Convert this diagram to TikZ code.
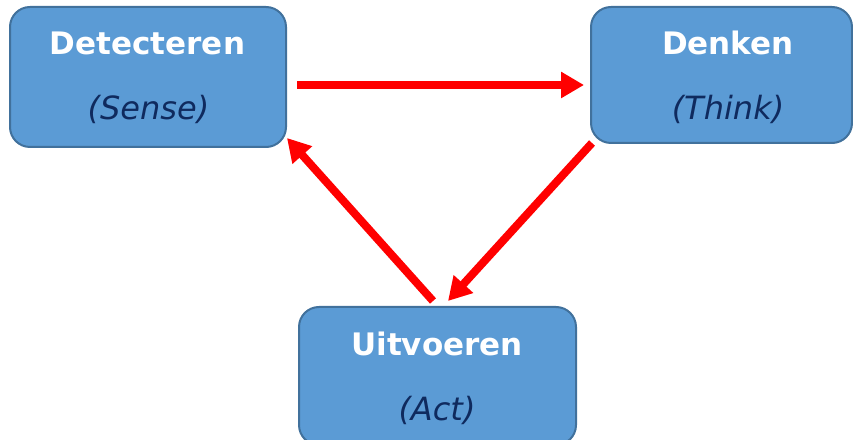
\documentclass[tikz,border=0pt]{standalone}
\usepackage{fontspec}
\setmainfont{DejaVu Sans}
\usetikzlibrary{arrows.meta}
\definecolor{boxfill}{HTML}{5B9BD5}
\definecolor{boxline}{HTML}{41719C}
\definecolor{subtext}{HTML}{0F2A5E}
\definecolor{flow}{HTML}{FF0000}
\begin{document}
\begin{tikzpicture}[x=1pt,y=1pt,
  stage/.style={draw=boxline, line width=2pt, fill=boxfill, rounded corners=20pt, inner sep=0pt},
  title/.style={text=white, anchor=base, inner sep=0pt, font=\fontsize{31}{33}\selectfont\bfseries},
  sub/.style={text=subtext, anchor=base, inner sep=0pt, font=\fontsize{32}{34}\selectfont\itshape},
  flowarrow/.style={draw=flow, line width=8pt, -{Triangle[length=23pt,width=25pt]}}]
\useasboundingbox (0,0) rectangle (853,439);
\clip (0,0) rectangle (853,439);

% the three stages
\node[stage, minimum width=276pt, minimum height=140pt] (det) at (148,362) {};
\node[stage, minimum width=261pt, minimum height=136pt] (den) at (721.5,364) {};
\node[stage, minimum width=277pt, minimum height=138pt] (uit) at (437.5,63) {};

% labels
\node[title] (detT) at (147.5,384) {Detecteren};
\node[sub]   (detS) at (148.5,319) {(Sense)};
\node[title] (denT) at (728,384) {Denken};
\node[sub]   (denS) at (728,319) {(Think)};
\node[title] (uitT) at (437,84) {Uitvoeren};
\node[sub]   (uitS) at (437,19) {(Act)};

% cycle arrows
\draw[flowarrow] ([shift={(10,-8)}]det.east) -- ([shift={(-6,-10)}]den.west);
\draw[flowarrow] ([shift={(2,1)}]den.south west) -- ([shift={(10.5,5)}]uit.north);
\draw[flowarrow] ([shift={(-4.5,5)}]uit.north) -- ([shift={(0,10)}]det.south east);
\end{tikzpicture}
\end{document}
